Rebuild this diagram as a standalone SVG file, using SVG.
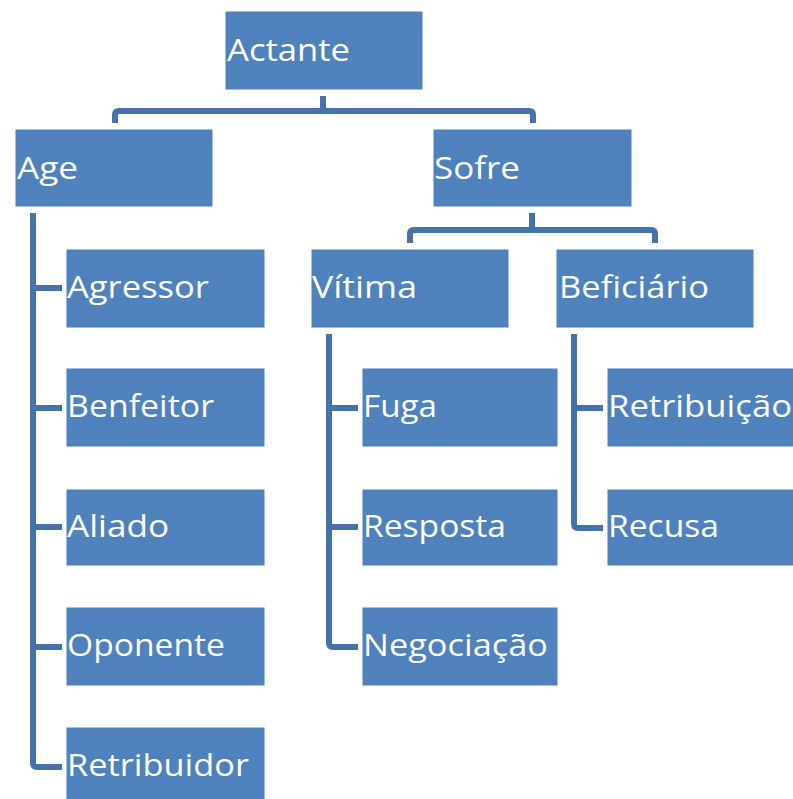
<svg xmlns="http://www.w3.org/2000/svg" width="793" height="799" viewBox="0 0 793 799">
<style>
.box{fill:#4F81BD;stroke:#fdfdfd;stroke-width:1}
.lbl{fill:#ffffff;font-family:"Open Sans","Liberation Sans",sans-serif;font-size:31px}
.con{fill:none;stroke:#4672AA;stroke-width:6;stroke-linejoin:round}
</style>
<rect width="793" height="799" fill="#ffffff"/>
<g id="connectors">
<path class="con" d="M323,96 V111 M115,123 V115 Q115,111 119,111 H529 Q533,111 533,115 V123"/>
<path class="con" d="M532,213 V230 M410,243 V234 Q410,230 414,230 H651 Q655,230 655,234 V243"/>
<path class="con" d="M33,213 V763 Q33,767 37,767 H62 M33,288 H62 M33,408 H62 M33,527 H62 M33,647 H62"/>
<path class="con" d="M329,334 V643 Q329,647 333,647 H358 M329,408 H358 M329,527 H358"/>
<path class="con" d="M574,334 V524 Q574,528 578,528 H603 M574,408 H603"/>
</g>
<g id="actante"><rect class="box" x="225" y="11" width="198" height="79"/><text class="lbl" x="227" y="61" textLength="123" lengthAdjust="spacingAndGlyphs">Actante</text></g>
<g id="age"><rect class="box" x="15" y="129" width="198" height="78"/><text class="lbl" x="17" y="179" textLength="61" lengthAdjust="spacingAndGlyphs">Age</text></g>
<g id="sofre"><rect class="box" x="433" y="129" width="199" height="78"/><text class="lbl" x="434" y="179" textLength="86" lengthAdjust="spacingAndGlyphs">Sofre</text></g>
<g id="agressor"><rect class="box" x="66" y="249" width="199" height="79"/><text class="lbl" x="67" y="298" textLength="142" lengthAdjust="spacingAndGlyphs">Agressor</text></g>
<g id="benfeitor"><rect class="box" x="66" y="368" width="199" height="79"/><text class="lbl" x="67" y="417" textLength="147" lengthAdjust="spacingAndGlyphs">Benfeitor</text></g>
<g id="aliado"><rect class="box" x="66" y="489" width="199" height="77"/><text class="lbl" x="67" y="537" textLength="102" lengthAdjust="spacingAndGlyphs">Aliado</text></g>
<g id="oponente"><rect class="box" x="66" y="607" width="199" height="79"/><text class="lbl" x="67" y="656" textLength="158" lengthAdjust="spacingAndGlyphs">Oponente</text></g>
<g id="retribuidor"><rect class="box" x="66" y="727" width="199" height="79"/><text class="lbl" x="67" y="776" textLength="182" lengthAdjust="spacingAndGlyphs">Retribuidor</text></g>
<g id="vitima"><rect class="box" x="311" y="249" width="198" height="79"/><text class="lbl" x="312" y="298" textLength="105" lengthAdjust="spacingAndGlyphs">Vítima</text></g>
<g id="beficiario"><rect class="box" x="556" y="249" width="198" height="79"/><text class="lbl" x="559" y="298" textLength="150" lengthAdjust="spacingAndGlyphs">Beficiário</text></g>
<g id="fuga"><rect class="box" x="362" y="368" width="196" height="79"/><text class="lbl" x="363" y="417" textLength="74" lengthAdjust="spacingAndGlyphs">Fuga</text></g>
<g id="resposta"><rect class="box" x="362" y="489" width="196" height="77"/><text class="lbl" x="363" y="537" textLength="143" lengthAdjust="spacingAndGlyphs">Resposta</text></g>
<g id="negociacao"><rect class="box" x="362" y="607" width="196" height="79"/><text class="lbl" x="363" y="656" textLength="185" lengthAdjust="spacingAndGlyphs">Negociação</text></g>
<g id="retribuicao"><rect class="box" x="607" y="368" width="190" height="79"/><text class="lbl" x="608" y="417" textLength="184" lengthAdjust="spacingAndGlyphs">Retribuição</text></g>
<g id="recusa"><rect class="box" x="607" y="489" width="190" height="77"/><text class="lbl" x="608" y="537" textLength="111" lengthAdjust="spacingAndGlyphs">Recusa</text></g>
</svg>
